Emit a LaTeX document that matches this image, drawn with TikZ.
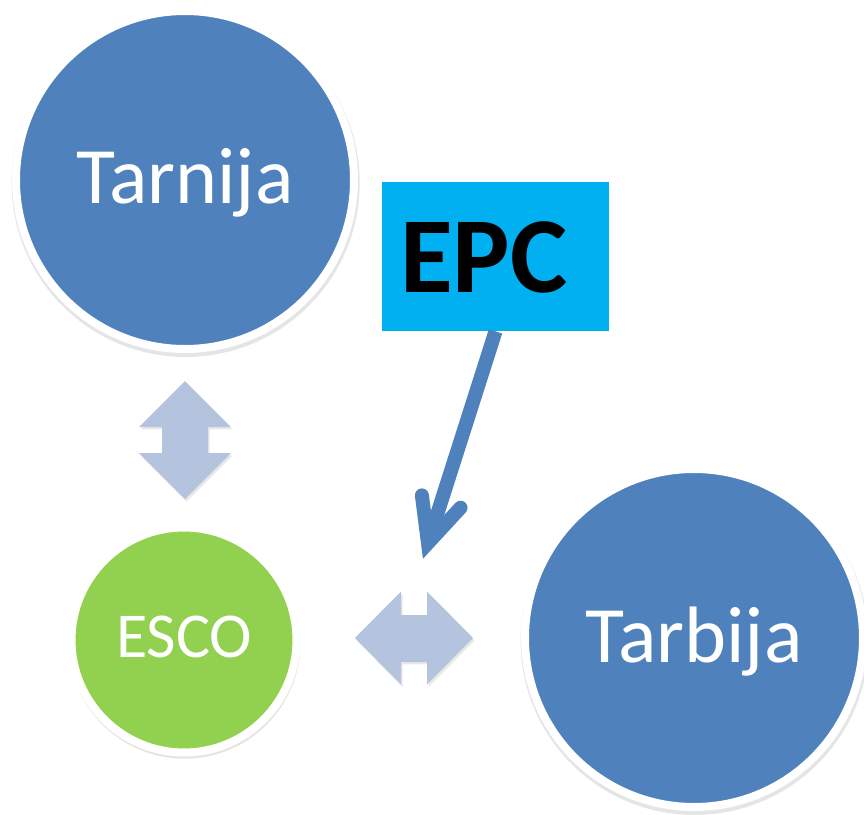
\documentclass[tikz,border=0pt]{standalone}
\usepackage{fontspec}
\setmainfont{Carlito}
\usetikzlibrary{calc,shadows}
\definecolor{ballblue}{HTML}{4F81BD}
\definecolor{ballgreen}{HTML}{92D050}
\definecolor{epccyan}{HTML}{00B0F0}
\definecolor{fatgrey}{RGB}{180,195,222}
\tikzset{ball/.style={circle, fill=ballblue, draw=white, line width=4pt, inner sep=0pt, text=white, text depth=0pt,
    font=\fontsize{40}{48}\selectfont, drop shadow={opacity=0.2, shadow scale=1.03, shadow xshift=0.3pt, shadow yshift=-1.4pt}},
  fatarrow/.style={fill=fatgrey, drop shadow={opacity=0.18, shadow xshift=0.8pt, shadow yshift=-1.2pt}},
  pointer/.style={ballblue, line width=7pt}}

\begin{document}
\begin{tikzpicture}[x=0.5pt, y=-0.5pt]
   \fill[white] (0,0) rectangle (864,815);
   \useasboundingbox (0,0) rectangle (864,815);
   \node[ball, minimum size=169pt, text height=23pt] (tarnija) at (185,180) {Tarnija};
   \node[ball, minimum size=169pt, text height=24pt] (tarbija) at (694,638) {Tarbija};
   \node[ball, fill=ballgreen, minimum size=112.5pt, text height=17pt,
     font=\fontsize{32}{38}\selectfont] (esco) at (184,640) {ESCO};
   \node[fill=epccyan, text width=95.5pt, inner xsep=9pt, inner ysep=0pt, align=left,
     minimum height=74.5pt, text height=35.5pt, text depth=0pt,
     font=\fontsize{54}{60}\selectfont\bfseries] (epc) at (495.5,256.5) {EPC};
   % double arrows
   \fill[fatarrow] (185,381) -- (231,427) -- (208,427) -- (208,453) -- (231,453) -- (185,499)
     -- (139,453) -- (162,453) -- (162,427) -- (139,427) -- cycle;
   \fill[fatarrow] (355,638) -- (401,591.5) -- (401,615) -- (427,615) -- (427,591.5) -- (473,638)
     -- (427,684.5) -- (427,662) -- (401,662) -- (401,684.5) -- cycle;
   % pointer from EPC
   \coordinate (aim) at (428,543);
   \draw[pointer] (epc.south) -- (aim);
   \draw[pointer, line cap=round, line join=miter]
     ($(aim)!24pt!25:(epc.south)$) -- (aim) -- ($(aim)!24pt!-25:(epc.south)$);
\end{tikzpicture}
\end{document}
